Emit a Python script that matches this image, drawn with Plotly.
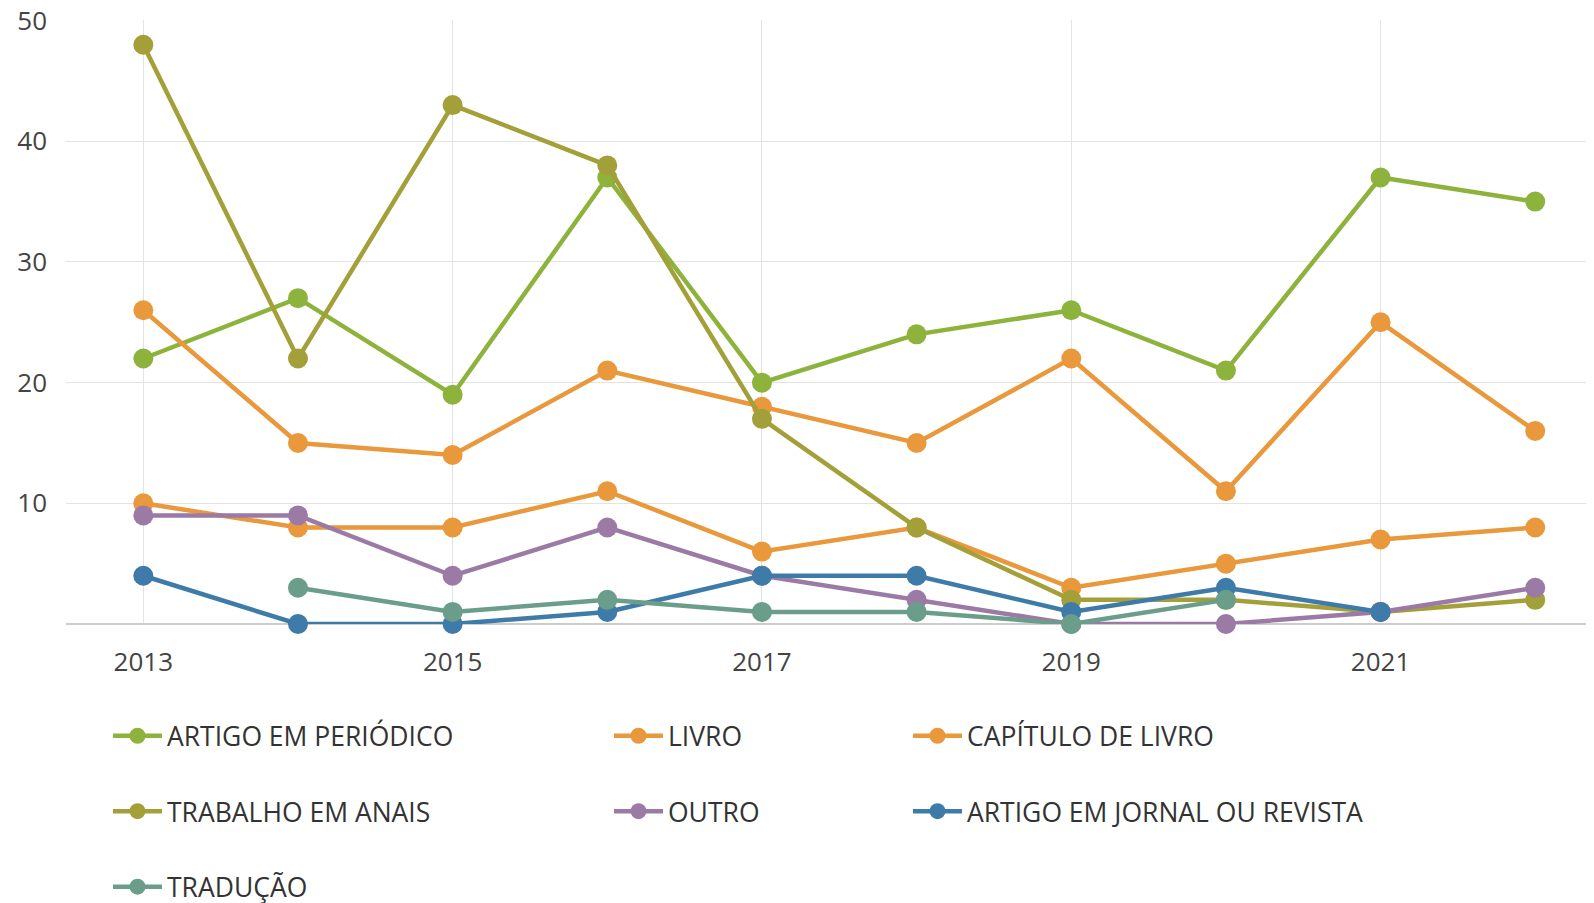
import plotly.graph_objects as go

years = [2013, 2014, 2015, 2016, 2017, 2018, 2019, 2020, 2021, 2022]

artigo_periodico = [22, 27, 19, 37, 20, 24, 26, 21, 37, 35]
livro = [26, 15, 14, 21, 18, 15, 22, 11, 25, 16]
capitulo_livro = [10, 8, 8, 11, 6, 8, 3, 5, 7, 8]
trabalho_anais = [48, 22, 43, 38, 17, 8, 2, 2, 1, 2]
outro = [9, 9, 4, 8, 4, 2, 0, 0, 1, 3]
artigo_jornal = [4, 0, 0, 1, 4, 4, 1, 3, 1, None]
traducao = [None, 3, 1, 2, 1, 1, 0, 2, None, None]

series = [
    ("ARTIGO EM PERIÓDICO", artigo_periodico, "#8db33c", "legend"),
    ("LIVRO", livro, "#e9983b", "legend2"),
    ("CAPÍTULO DE LIVRO", capitulo_livro, "#e9983b", "legend3"),
    ("TRABALHO EM ANAIS", trabalho_anais, "#a3a03a", "legend"),
    ("OUTRO", outro, "#9b7aa6", "legend2"),
    ("ARTIGO EM JORNAL OU REVISTA", artigo_jornal, "#3e7ba8", "legend3"),
    ("TRADUÇÃO", traducao, "#6b9e8a", "legend"),
]

W, H = 1594, 903
fig = go.Figure()
for i, (name, vals, color, lg) in enumerate(series):
    fig.add_trace(go.Scatter(
        x=years, y=vals, name=name, mode="lines+markers",
        line=dict(color=color, width=4.5),
        marker=dict(color=color, size=20),
        legend=lg, legendgroup=name, cliponaxis=False,
    ))

font_main = "Open Sans"
leg_common = dict(
    xref="container", yref="container", xanchor="left", yanchor="top",
    orientation="v", tracegroupgap=38, bgcolor="rgba(0,0,0,0)",
    font=dict(family=font_main, size=26.5, color="#333333"),
    itemwidth=49,
)
fig.update_layout(
    width=W, height=H,
    margin=dict(l=58, r=8, t=12, b=287, autoexpand=False),
    plot_bgcolor="white", paper_bgcolor="white",
    font=dict(family=font_main, size=26, color="#444444"),
    showlegend=True,
    legend=dict(x=100 / W, y=1 - 704 / H, **leg_common),
    legend2=dict(x=601 / W, y=1 - 704 / H, **leg_common),
    legend3=dict(x=900 / W, y=1 - 704 / H, **leg_common),
)
fig.update_xaxes(
    range=[2012.5, 2022.38], tickvals=[2013, 2015, 2017, 2019, 2021],
    ticktext=["2013", "2015", "2017", "2019", "2021"],
    showgrid=True, gridcolor="#e3e3e3", gridwidth=1,
    showline=False, zeroline=False, ticks="", tickangle=0,
    tickfont=dict(family=font_main, size=26, color="#444444"),
    ticklabelstandoff=20, automargin=False,
)
fig.update_yaxes(
    range=[0, 50.05], tickvals=[0, 10, 20, 30, 40, 50],
    ticktext=["", "10", "20", "30", "40", "50"],
    showgrid=True, gridcolor="#e3e3e3", gridwidth=1,
    zeroline=True, zerolinecolor="#cccccc", zerolinewidth=2,
    showline=False, ticks="", ticklabeloverflow="allow",
    tickfont=dict(family=font_main, size=26, color="#444444"),
    ticklabelstandoff=18, automargin=False,
)
fig.write_html("out.html")
